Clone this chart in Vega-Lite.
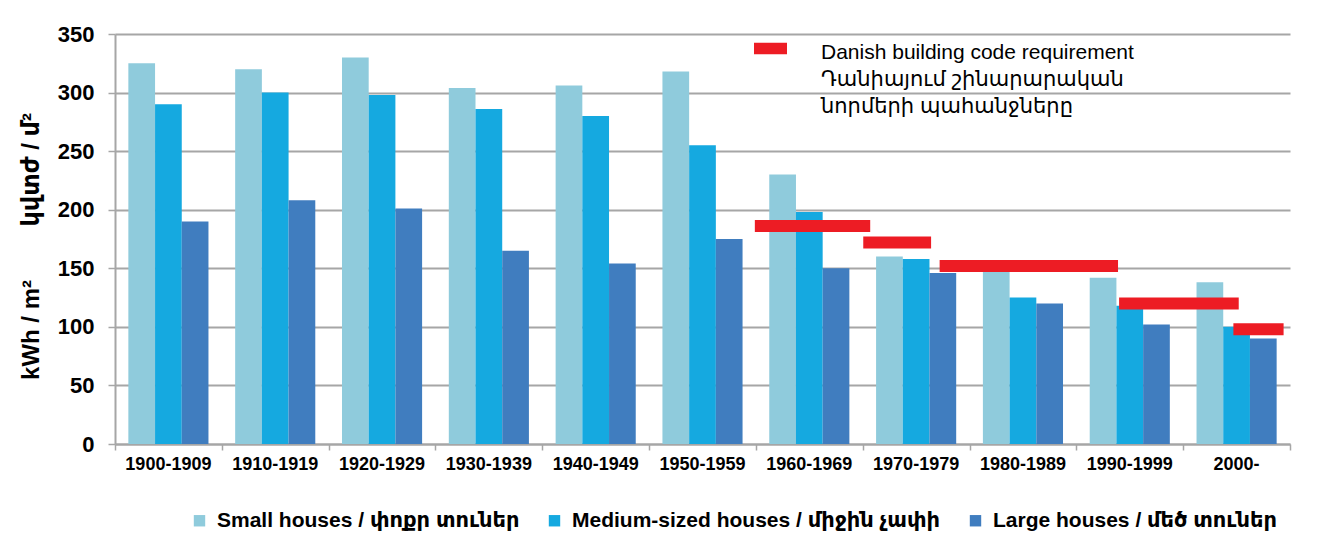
{
  "$schema": "https://vega.github.io/schema/vega-lite/v6.json",
  "width": 1175,
  "height": 410,
  "autosize": {"type": "none"},
  "padding": {"left": 115, "top": 34, "right": 43, "bottom": 106},
  "config": {
    "font": "Liberation Sans, Arial, DejaVu Sans, sans-serif",
    "view": {"stroke": null}
  },
  "datasets": {
    "bars": [
      {"period": "1900-1909", "type": "Small houses / փոքր տուներ", "value": 325},
      {"period": "1900-1909", "type": "Medium-sized houses / միջին չափի", "value": 290},
      {"period": "1900-1909", "type": "Large houses / մեծ տուներ", "value": 190},
      {"period": "1910-1919", "type": "Small houses / փոքր տուներ", "value": 320},
      {"period": "1910-1919", "type": "Medium-sized houses / միջին չափի", "value": 300},
      {"period": "1910-1919", "type": "Large houses / մեծ տուներ", "value": 208},
      {"period": "1920-1929", "type": "Small houses / փոքր տուներ", "value": 330},
      {"period": "1920-1929", "type": "Medium-sized houses / միջին չափի", "value": 298},
      {"period": "1920-1929", "type": "Large houses / մեծ տուներ", "value": 201},
      {"period": "1930-1939", "type": "Small houses / փոքր տուներ", "value": 304},
      {"period": "1930-1939", "type": "Medium-sized houses / միջին չափի", "value": 286},
      {"period": "1930-1939", "type": "Large houses / մեծ տուներ", "value": 165},
      {"period": "1940-1949", "type": "Small houses / փոքր տուներ", "value": 306},
      {"period": "1940-1949", "type": "Medium-sized houses / միջին չափի", "value": 280},
      {"period": "1940-1949", "type": "Large houses / մեծ տուներ", "value": 154},
      {"period": "1950-1959", "type": "Small houses / փոքր տուներ", "value": 318},
      {"period": "1950-1959", "type": "Medium-sized houses / միջին չափի", "value": 255},
      {"period": "1950-1959", "type": "Large houses / մեծ տուներ", "value": 175},
      {"period": "1960-1969", "type": "Small houses / փոքր տուներ", "value": 230},
      {"period": "1960-1969", "type": "Medium-sized houses / միջին չափի", "value": 198},
      {"period": "1960-1969", "type": "Large houses / մեծ տուներ", "value": 150},
      {"period": "1970-1979", "type": "Small houses / փոքր տուներ", "value": 160},
      {"period": "1970-1979", "type": "Medium-sized houses / միջին չափի", "value": 158},
      {"period": "1970-1979", "type": "Large houses / մեծ տուներ", "value": 146},
      {"period": "1980-1989", "type": "Small houses / փոքր տուներ", "value": 150},
      {"period": "1980-1989", "type": "Medium-sized houses / միջին չափի", "value": 125},
      {"period": "1980-1989", "type": "Large houses / մեծ տուներ", "value": 120},
      {"period": "1990-1999", "type": "Small houses / փոքր տուներ", "value": 142},
      {"period": "1990-1999", "type": "Medium-sized houses / միջին չափի", "value": 118},
      {"period": "1990-1999", "type": "Large houses / մեծ տուներ", "value": 102},
      {"period": "2000-", "type": "Small houses / փոքր տուներ", "value": 138},
      {"period": "2000-", "type": "Medium-sized houses / միջին չափի", "value": 100},
      {"period": "2000-", "type": "Large houses / մեծ տուներ", "value": 90}
    ],
    "codes": [
      {"start": 1959.9, "end": 1970.7, "value": 186, "series": "Danish building code requirement"},
      {"start": 1970.05, "end": 1976.4, "value": 172, "series": "Danish building code requirement"},
      {"start": 1977.2, "end": 1993.9, "value": 152, "series": "Danish building code requirement"},
      {"start": 1994.0, "end": 2005.2, "value": 120, "series": "Danish building code requirement"},
      {"start": 2004.7, "end": 2009.4, "value": 98, "series": "Danish building code requirement"}
    ]
  },
  "layer": [
    {
      "data": {"name": "bars"},
      "mark": {"type": "bar"},
      "encoding": {
        "x": {
          "field": "period",
          "type": "nominal",
          "sort": null,
          "scale": {"paddingInner": 0.25, "paddingOuter": 0.125},
          "axis": {
            "orient": "bottom",
            "title": null,
            "labelAngle": 0,
            "ticks": false,
            "domain": false,
            "labelFontSize": 18,
            "labelFontWeight": "bold",
            "labelColor": "#000000",
            "labelPadding": 11
          }
        },
        "xOffset": {
          "field": "type",
          "type": "nominal",
          "sort": ["Small houses / փոքր տուներ", "Medium-sized houses / միջին չափի", "Large houses / մեծ տուներ"]
        },
        "y": {
          "field": "value",
          "type": "quantitative",
          "scale": {"domain": [0, 350], "nice": false},
          "axis": {
            "values": [0, 50, 100, 150, 200, 250, 300, 350],
            "title": "kWh / m²\u00a0\u00a0\u00a0\u00a0\u00a0\u00a0\u00a0\u00a0կվտժ / մ²",
            "titleFontSize": 24,
            "titleFontWeight": "bold",
            "titleColor": "#000000",
            "titlePadding": 14,
            "titleY": 212,
            "labelFontSize": 22,
            "labelFontWeight": "bold",
            "labelColor": "#000000",
            "labelPadding": 14,
            "tickSize": 7,
            "tickColor": "#A6A6A6",
            "tickWidth": 1.5,
            "domainColor": "#A6A6A6",
            "domainWidth": 2,
            "grid": true,
            "gridColor": "#A6A6A6",
            "gridWidth": 2
          }
        },
        "color": {
          "field": "type",
          "type": "nominal",
          "sort": ["Small houses / փոքր տուներ", "Medium-sized houses / միջին չափի", "Large houses / մեծ տուներ"],
          "scale": {
            "domain": ["Small houses / փոքր տուներ", "Medium-sized houses / միջին չափի", "Large houses / մեծ տուներ"],
            "range": ["#8FCBDC", "#15A9E0", "#407DBF"]
          },
          "legend": {
            "title": null,
            "orient": "none",
            "legendX": 74,
            "legendY": 476,
            "direction": "horizontal",
            "symbolType": "square",
            "symbolSize": 130,
            "symbolStrokeWidth": 0,
            "labelFontSize": 21,
            "labelFontWeight": "bold",
            "labelColor": "#000000",
            "labelOffset": 7,
            "labelLimit": 600,
            "columnPadding": 24
          }
        }
      }
    },
    {
      "data": {"name": "codes"},
      "mark": {"type": "rule", "strokeWidth": 12, "strokeCap": "butt"},
      "encoding": {
        "x": {
          "field": "start",
          "type": "quantitative",
          "scale": {"domain": [1900, 2010], "nice": false, "zero": false},
          "axis": {
            "orient": "bottom",
            "title": null,
            "values": [1900, 1910, 1920, 1930, 1940, 1950, 1960, 1970, 1980, 1990, 2000, 2010],
            "labels": false,
            "grid": false,
            "tickSize": 6,
            "tickColor": "#A6A6A6",
            "tickWidth": 1.5,
            "domainColor": "#A6A6A6",
            "domainWidth": 2
          }
        },
        "x2": {"field": "end"},
        "y": {"field": "value", "type": "quantitative"},
        "stroke": {
          "field": "series",
          "type": "nominal",
          "scale": {"range": ["#ED1C24"]},
          "legend": {
            "title": null,
            "orient": "none",
            "legendX": 639,
            "legendY": -9,
            "symbolType": "M-1,0.07H1V0.77H-1Z",
            "symbolSize": 1089,
            "labelFontSize": 21,
            "labelColor": "#000000",
            "labelOffset": 34,
            "labelLimit": 600,
            "labelBaseline": "top",
            "labelExpr": "['Danish building code requirement', 'Դանիայում շինարարական', 'նորմերի պահանջները']",
            "encode": {
              "symbols": {"update": {"fill": {"value": "#ED1C24"}, "strokeWidth": {"value": 0}}},
              "labels": {"update": {"lineHeight": {"value": 27}}}
            }
          }
        }
      }
    }
  ],
  "resolve": {"scale": {"x": "independent"}}
}
